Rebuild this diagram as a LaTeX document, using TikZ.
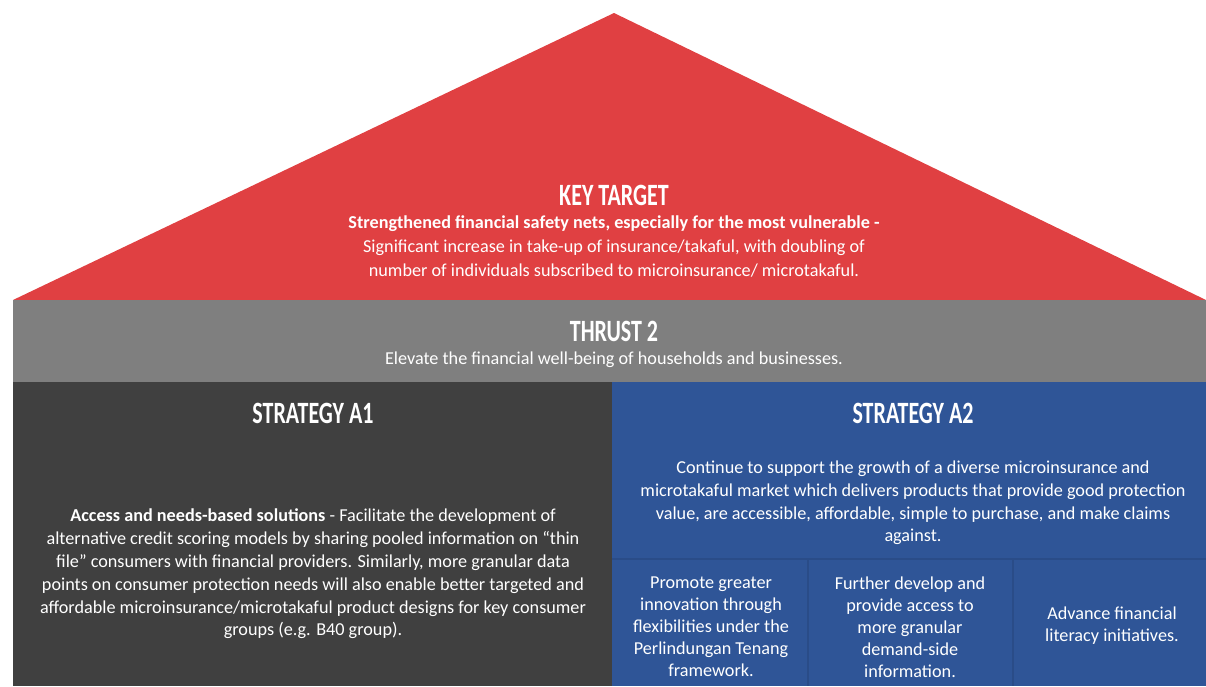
\documentclass[tikz,border=0pt]{standalone}
\usepackage{fontspec}
\setmainfont{Carlito}
\newfontfamily\headfont[FakeStretch=0.71]{Carlito}
\usepackage{xcolor}
\usetikzlibrary{positioning}

\definecolor{roofred}{RGB}{224,64,66}
\definecolor{thrustgrey}{RGB}{127,127,127}
\definecolor{pillardark}{RGB}{64,64,64}
\definecolor{pillarblue}{RGB}{47,85,151}
\definecolor{seamblue}{RGB}{42,76,136}

\tikzset{
  heading/.style={text=white, inner sep=0pt, font=\headfont\bfseries\fontsize{31}{31}\selectfont},
  bodytext/.style={text=white, inner sep=0pt, align=center, font=\fontsize{18.2}{22.8}\selectfont},
}

\begin{document}
\begin{tikzpicture}[x=1pt, y=-1pt]
        \useasboundingbox (0,0) rectangle (1206,686);
        \coordinate (Apex) at (614,13);
        \coordinate (EaveL) at (13,300);
        \coordinate (EaveR) at (1206,300);
        \coordinate (Split) at (612,382);
        \coordinate (Floor) at (1206,686);

        % roof, thrust band and the two pillars
        \fill[roofred] (EaveL) -- (Apex) -- (EaveR) -- cycle;
        \fill[thrustgrey] (EaveL) rectangle (1206,382);
        \fill[pillardark] (13,382) rectangle (612,686);
        \fill[pillarblue] (Split) rectangle (Floor);

        % seams under strategy A2
        \draw[seamblue, line width=1.5pt] (612,559) -- (1206,559);
        \draw[seamblue, line width=1.5pt] (808,559) -- (808,686);
        \draw[seamblue, line width=1.5pt] (1013,559) -- (1013,686);

        \node[heading] (KeyTitle) at (614,195) {KEY TARGET};
        \node[bodytext, font=\fontsize{18.2}{24}\selectfont] (KeyText) at (614,246)
          {\textbf{Strengthened financial safety nets, especially for the most vulnerable -}\\
           Significant increase in take-up of insurance/takaful, with doubling of\\
           number of individuals subscribed to microinsurance/ microtakaful.};

        \node[heading] (ThrustTitle) at (614,331) {THRUST 2};
        \node[bodytext] (ThrustText) at (614,360)
          {Elevate the financial well-being of households and businesses.};

        \node[heading] (AOneTitle) at (313,413) {STRATEGY A1};
        \node[bodytext] (AOneText) at (313,574)
          {\textbf{Access and needs-based solutions} - Facilitate the development of\\
           alternative credit scoring models by sharing pooled information on ``thin\\
           file'' consumers with financial providers. Similarly, more granular data\\
           points on consumer protection needs will also enable better targeted and\\
           affordable microinsurance/microtakaful product designs for key consumer\\
           groups (e.g. B40 group).};

        \node[heading] (ATwoTitle) at (913,413) {STRATEGY A2};
        \node[bodytext] (ATwoText) at (913,503)
          {Continue to support the growth of a diverse microinsurance and\\
           microtakaful market which delivers products that provide good protection\\
           value, are accessible, affordable, simple to purchase, and make claims\\
           against.};

        \node[bodytext, font=\fontsize{18.2}{22}\selectfont] (Innovation) at (711,627)
          {Promote greater\\ innovation through\\ flexibilities under the\\ Perlindungan Tenang\\ framework.};
        \node[bodytext, font=\fontsize{18.2}{22}\selectfont] (DemandInfo) at (910,627)
          {Further develop and\\ provide access to\\ more granular\\ demand-side\\ information.};
        \node[bodytext, font=\fontsize{18.2}{22}\selectfont] (Literacy) at (1112,626)
          {Advance financial\\ literacy initiatives.};
\end{tikzpicture}
\end{document}
